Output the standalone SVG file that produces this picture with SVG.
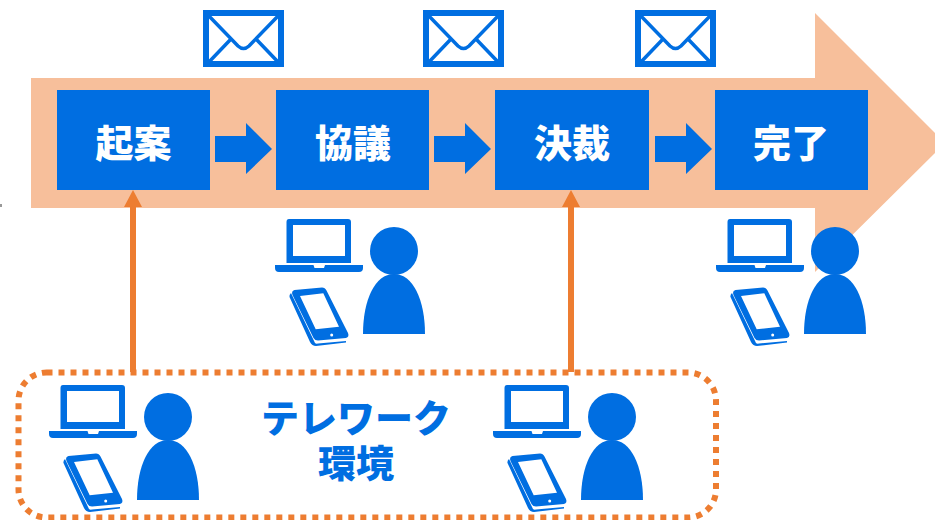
<svg xmlns="http://www.w3.org/2000/svg" width="935" height="520" viewBox="0 0 935 520">
<style>
.b{fill:#006EE1}
.t{font-family:"Noto Sans CJK JP","Noto Sans",sans-serif;font-weight:900;font-size:38px;text-anchor:middle}
.w{fill:#fff}
.o{fill:#ED7D31}
.e{fill:none;stroke:#006EE1}
</style>
<defs>
<g id="env">
<rect class="e" x="3" y="3" width="75" height="51" stroke-width="6"/>
<path class="e" stroke-width="3.500" d="M5 5 L35 36 Q40.500 41 46 36 L76 5 M28 29 L5 53 M53 29 L76 53"/>
</g>
<g id="user">
<circle class="b" cx="394" cy="251" r="24"/>
<path class="b" d="M363 334 C363 300 375 274 394 274 C413 274 425 300 425 334 Z"/>
<path class="b" fill-rule="evenodd" d="M289 219 H348 Q351 219 351 222 V263 H286.500 V222 Q286.500 219 289 219 Z M293 225 V256 H345 V225 Z"/>
<path class="b" d="M275 265 H313.500 L314.500 268 H324 L325 265 H363 V268 Q363 272 359 272 H279 Q275 272 275 268 Z"/>
<path class="b" fill-rule="evenodd" d="M294.500 290 L322 287.500 Q325 287.500 326.500 290.500 L348 333 Q349.500 337 346 338 L318 340.500 Q315 340.500 313.500 338 L292.500 295 Q291 291 294.500 290 Z M300 296 L315.700 329.300 L339 326.700 L323.300 293.300 Z"/>
<path class="b" d="M291 293 L315 343 Q316 344 318 343.500 L346 341 L346 342.500 L316 346 Q312 346 310 342 L289.500 297 Q289 295 291 293 Z"/>
<circle class="w" cx="331.700" cy="335" r="1.500"/>
</g>
</defs>
<polygon fill="#F7BF9B" points="31,78 815,78 815,13 945,143 815,272 815,208 31,208"/>
<rect x="0" y="204" width="2" height="3" fill="#999"/>
<g id="mail-1"><use href="#env" x="203" y="10"/></g>
<g id="mail-2"><use href="#env" x="423" y="10"/></g>
<g id="mail-3"><use href="#env" x="635" y="10"/></g>
<g id="node-kian"><rect class="b" x="57" y="90" width="153" height="100"/><text class="t w" x="133.500" y="157">起案</text></g>
<g id="node-kyogi"><rect class="b" x="276" y="90" width="153" height="100"/><text class="t w" x="353" y="157">協議</text></g>
<g id="node-kessai"><rect class="b" x="495" y="90" width="154" height="100"/><text class="t w" x="572" y="157">決裁</text></g>
<g id="node-kanryo"><rect class="b" x="715" y="90" width="153" height="100"/><text class="t w" x="791" y="157">完了</text></g>
<g id="user-kyogi"><use href="#user"/></g>
<g id="user-kanryo"><use href="#user" x="441"/></g>
<g id="telework">
<rect x="18.500" y="372.500" width="697.500" height="145" rx="28" fill="none" stroke="#ED7D31" stroke-width="6" stroke-dasharray="6 6"/>
<text class="t" x="356" y="432" fill="#006EE1">テレワーク</text>
<text class="t" x="356" y="477" fill="#006EE1">環境</text>
<use href="#user" x="-226" y="166"/>
<use href="#user" x="218" y="166"/>
</g>
<g id="connectors">
<polygon class="b" points="215,136 246,136 246,123 272,149 246,174 246,162 215,162"/>
<polygon class="b" points="434,136 465,136 465,123 491,149 465,174 465,162 434,162"/>
<polygon class="b" points="655,136 686,136 686,123 712,149 686,174 686,162 655,162"/>
<polygon class="o" points="133,190 142,207 136,207 136,372 130,372 130,207 124,207"/>
<polygon class="o" points="571,190 580,207 574,207 574,372 568,372 568,207 562,207"/>
</g>
</svg>
